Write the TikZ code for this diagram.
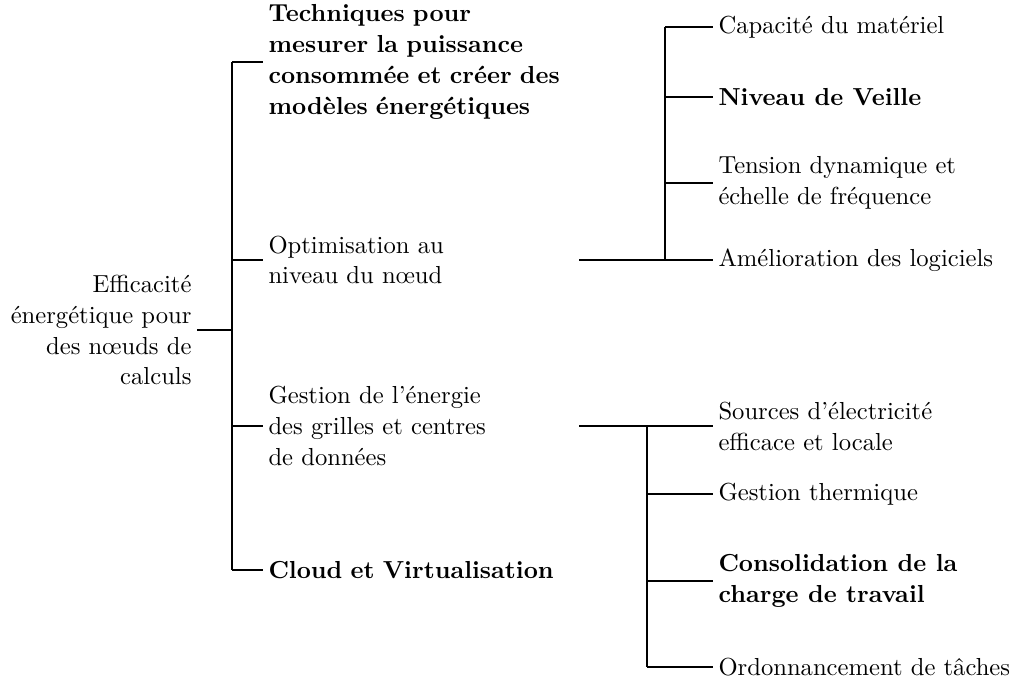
\documentclass[tikz,border=0pt]{standalone}
\usepackage{fontspec}
\begin{document}
\begin{tikzpicture}[x=0.4pt,y=-0.4pt,
  every node/.style={font=\fontsize{9.85}{12.35}\selectfont},
  trunk/.style={line width=0.9pt},
  branch/.style={line width=0.6pt},
  leaf/.style={anchor=west,align=left,inner sep=2pt},
  mid/.style={anchor=west,align=left,inner sep=2pt,text width=122pt},
  rootbox/.style={anchor=east,align=right,inner sep=2pt},
  bold/.style={font=\fontsize{9.85}{12.35}\selectfont\bfseries}]
\useasboundingbox (0,0) rectangle (1013,683);
% root
\node[rootbox] (root) at (197,330) {Efficacité\\énergétique pour\\des nœuds de\\calculs};
% middle level
\node[mid,bold] (tech) at (263,62) {Techniques pour\\mesurer la puissance\\consommée et créer des\\modèles énergétiques};
\node[mid] (opt) at (263,260) {Optimisation au\\niveau du nœud};
\node[mid] (grid) at (263,426) {Gestion de l'énergie\\des grilles et centres\\de données};
\node[mid,bold] (cloud) at (263,570) {Cloud et Virtualisation};
% right level (optimisation)
\node[leaf] (cap) at (713,27) {Capacité du matériel};
\node[leaf,bold] (veille) at (713,97) {Niveau de Veille};
\node[leaf] (dvfs) at (713,183) {Tension dynamique et\\échelle de fréquence};
\node[leaf] (soft) at (713,260) {Amélioration des logiciels};
% right level (grilles)
\node[leaf] (src) at (713,426) {Sources d'électricité\\efficace et locale};
\node[leaf] (therm) at (713,494) {Gestion thermique};
\node[leaf,bold] (cons) at (713,581) {Consolidation de la\\charge de travail};
\node[leaf] (ord) at (713,667) {Ordonnancement de tâches};
% junctions
\coordinate (j0) at (232,330);
\coordinate (j1) at (665,260);
\coordinate (j2) at (647,426);
% root connectors
\draw[trunk] (root.east) -- (j0);
\draw[trunk] (j0 |- tech.west) -- (j0 |- cloud.west);
\foreach \n in {tech,opt,grid,cloud} \draw[branch] (j0 |- \n.west) -- (\n.west);
% optimisation connectors
\draw[trunk] (opt.east) -- (j1);
\draw[trunk] (j1 |- cap.west) -- (j1 |- soft.west);
\foreach \n in {cap,veille,dvfs,soft} \draw[branch] (j1 |- \n.west) -- (\n.west);
% grilles connectors
\draw[trunk] (grid.east) -- (j2);
\draw[trunk] (j2 |- src.west) -- (j2 |- ord.west);
\foreach \n in {src,therm,cons,ord} \draw[branch] (j2 |- \n.west) -- (\n.west);
\end{tikzpicture}
\end{document}
